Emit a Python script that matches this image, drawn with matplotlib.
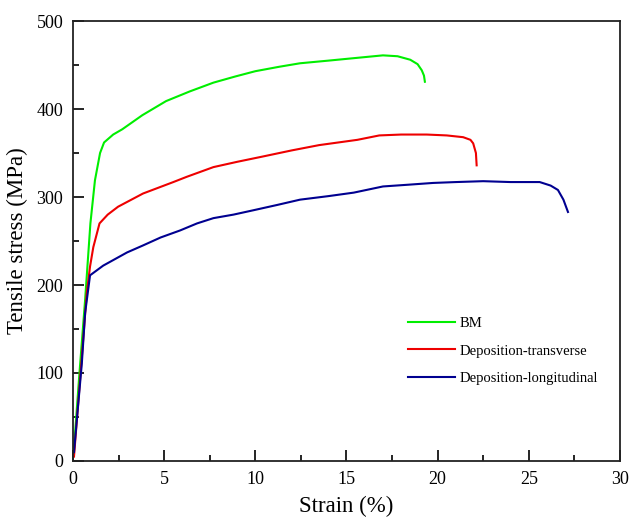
import matplotlib
matplotlib.use('Agg')
import matplotlib.pyplot as plt
from matplotlib.ticker import MultipleLocator

plt.rcParams['font.family'] = ['Liberation Serif', 'DejaVu Serif']

# strain (%) / stress (MPa)
bm_strain = [0.05, 0.35, 0.66, 0.95, 1.2, 1.48, 1.7, 2.2, 2.7, 3.8, 5.1, 6.4, 7.7, 8.9, 10.0,
             11.3, 12.45, 14.0, 15.5, 17.0, 17.8, 18.5, 18.9, 19.13, 19.25, 19.3]
bm_stress = [15, 100, 183, 270, 319, 350, 362, 371, 377, 393, 409, 420, 430, 437, 443,
             448, 452, 455, 458, 461, 460, 456, 451, 444, 438, 431]

tr_strain = [0.05, 0.45, 0.75, 0.93, 1.11, 1.45, 1.9, 2.47, 3.2, 3.84, 5.5, 6.24, 7.7, 9.0, 10.4,
             12.0, 13.5, 15.6, 16.8, 18.0, 19.4, 20.5, 21.4, 21.8, 21.95, 22.1, 22.14]
tr_stress = [5, 110, 191, 221, 243, 270, 280, 289, 297, 304, 317, 323, 334, 340, 346,
             353, 359, 365, 370, 371, 371, 370, 368, 365, 361, 350, 336]

lo_strain = [0.05, 0.48, 0.66, 0.93, 1.65, 2.96, 3.84, 4.8, 5.87, 6.8, 7.7, 8.8, 9.9, 11.2,
             12.45, 14.0, 15.4, 17.0, 18.4, 19.75, 21.0, 22.5, 24.0, 25.6, 26.2, 26.6, 26.9, 27.15]
lo_stress = [10, 111, 168, 211, 222, 237, 245, 254, 262, 270, 276, 280, 285, 291,
             297, 301, 305, 312, 314, 316, 317, 318, 317, 317, 313, 308, 297, 283]

labels = ['BM', 'Deposition-transverse', 'Deposition-longitudinal']
colors = ['#00ee00', '#ee0000', '#000090']

fig = plt.figure(figsize=(6.3, 5.26), dpi=100)
ax = fig.add_axes([0.116, 0.1236, 0.868, 0.8364])

ax.plot(bm_strain, bm_stress, color=colors[0], lw=1.5, label=labels[0])
ax.plot(tr_strain, tr_stress, color=colors[1], lw=1.5, label=labels[1])
ax.plot(lo_strain, lo_stress, color=colors[2], lw=1.5, label=labels[2])

ax.set_xlim(0, 30)
ax.set_ylim(0, 500)
ax.xaxis.set_major_locator(MultipleLocator(5))
ax.xaxis.set_minor_locator(MultipleLocator(2.5))
ax.yaxis.set_major_locator(MultipleLocator(100))
ax.yaxis.set_minor_locator(MultipleLocator(50))
ax.tick_params(which='major', direction='in', length=8, width=1.2, labelsize=13, pad=7)
ax.tick_params(which='minor', direction='in', length=4, width=1.2)
for s in ax.spines.values():
    s.set_linewidth(1.3)
    s.set_color('#222222')

ax.set_xlabel('Strain (%)', fontsize=16.5, labelpad=6)
ax.set_ylabel('Tensile stress (MPa)', fontsize=16.5, labelpad=6)

ax.legend(loc='center left', bbox_to_anchor=(0.589, 0.25), frameon=False, fontsize=10.5,
          handlelength=3.2, handletextpad=0.3, labelspacing=1.0)

plt.savefig('out.png')
